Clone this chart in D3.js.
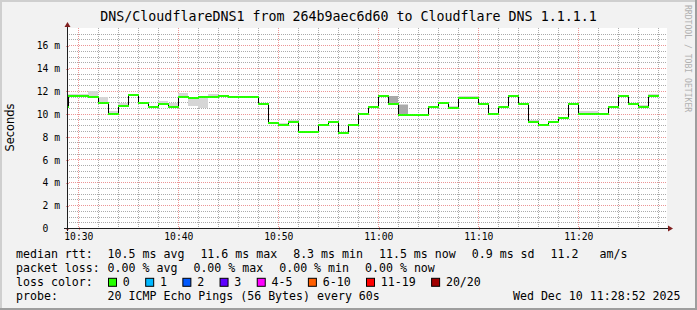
<!DOCTYPE html>
<html><head><meta charset="utf-8">
<script src="https://cdn.jsdelivr.net/npm/d3@7/dist/d3.min.js"></script>
<style>
html,body{margin:0;padding:0;background:#f2f2f2;}
svg{display:block;}
text{white-space:pre;}
</style>
</head><body>
<svg id="chart" width="697" height="310"></svg>
<script>
// ---------------- data ----------------
const title = "DNS/CloudflareDNS1 from 264b9aec6d60 to Cloudflare DNS 1.1.1.1";
const day = "2025-12-10";
const startClock = "10:28:52";
const endClock = "11:28:52";
const firstSampleClock = "10:28:00";
const stepMinutes = 1;

// median RTT per minute (ms)
const median = [10.6, 11.56, 11.56, 11.48, 10.95, 10.0, 10.7, 11.65, 10.95, 10.6,
  10.87, 10.6, 11.5, 11.36, 11.5, 11.5, 11.56, 11.48, 11.48, 11.48,
  10.87, 9.2, 9.03, 9.29, 8.36, 8.36, 9.03, 9.29, 8.33, 9.03,
  10.0, 10.6, 11.56, 10.87, 9.9, 9.9, 9.9, 10.6, 10.95, 10.52,
  11.39, 11.39, 10.87, 10.0, 10.6, 11.56, 10.87, 9.29, 9.03, 9.29,
  9.62, 10.87, 10.0, 10.0, 10.0, 10.6, 11.56, 10.87, 10.6, 11.56];
// smoke (spread of the pings)
const smokeHi = [10.6, 11.7, 11.7, 12.0, 11.5, 10.2, 10.9, 11.65, 10.95, 10.6,
  11.1, 10.95, 11.85, 11.36, 11.5, 11.74, 11.56, 11.48, 11.48, 11.48,
  10.87, 9.2, 9.2, 9.47, 8.48, 8.48, 9.03, 9.29, 8.33, 9.03,
  10.0, 10.6, 11.56, 11.56, 10.85, 9.9, 9.9, 10.6, 10.95, 10.7,
  11.56, 11.56, 10.87, 10.0, 10.6, 11.56, 10.87, 9.47, 9.03, 9.29,
  9.62, 10.87, 10.2, 10.25, 10.0, 10.6, 11.56, 10.87, 10.75, 11.72];
const smokeLo = [10.6, 11.56, 11.56, 11.48, 10.95, 10.0, 10.7, 11.65, 10.95, 10.6,
  10.87, 10.6, 11.5, 10.7, 10.5, 11.5, 11.56, 11.48, 11.48, 11.48,
  10.87, 9.2, 9.03, 9.29, 8.36, 8.36, 9.03, 9.29, 8.33, 9.03,
  10.0, 10.6, 11.56, 10.87, 9.9, 9.9, 9.9, 10.6, 10.95, 10.52,
  11.39, 11.39, 10.87, 10.0, 10.6, 11.56, 10.87, 9.29, 9.03, 9.29,
  9.62, 10.87, 10.0, 10.0, 10.0, 10.6, 11.56, 10.87, 10.6, 11.56];
const innerHi = [10.6, 11.56, 11.56, 11.48, 10.95, 10.0, 10.7, 11.65, 10.95, 10.6,
  10.87, 10.6, 11.5, 11.36, 11.5, 11.5, 11.56, 11.48, 11.48, 11.48,
  10.87, 9.2, 9.03, 9.29, 8.36, 8.36, 9.03, 9.29, 8.33, 9.03,
  10.0, 10.6, 11.56, 11.56, 10.72, 9.9, 9.9, 10.6, 10.95, 10.52,
  11.39, 11.39, 10.87, 10.0, 10.6, 11.56, 10.87, 9.29, 9.03, 9.29,
  9.62, 10.87, 10.0, 10.0, 10.0, 10.6, 11.56, 10.87, 10.6, 11.56];

const yTicks = [0, 2, 4, 6, 8, 10, 12, 14, 16];
const yTickLabels = ["0  ", "2 m", "4 m", "6 m", "8 m", "10 m", "12 m", "14 m", "16 m"];
const xTickLabels = ["10:30", "10:40", "10:50", "11:00", "11:10", "11:20"];
const yMax = 17.5;
const yLabel = "Seconds";

const rowLabels = ["median rtt:", "packet loss:", "loss color:", "probe:"];
const rttStats = ["10.5 ms avg", "11.6 ms max", "8.3 ms min", "11.5 ms now", "0.9 ms sd", "11.2   am/s"];
const lossStats = ["0.00 % avg", "0.00 % max", "0.00 % min", "0.00 % now"];
const lossLabels = ["0", "1", "2", "3", "4-5", "6-10", "11-19", "20/20"];
const lossColors = ["#26ff00", "#00b8ff", "#0059ff", "#5e00ff", "#ff00ff", "#ff5e00", "#ff0000", "#a10000"];
const probeText = "20 ICMP Echo Pings (56 Bytes) every 60s";
const dateText = "Wed Dec 10 11:28:52 2025";
const watermark = "RRDTOOL / TOBI OETIKER";

// ---------------- layout ----------------
const W = 697, H = 310;
const L = 67, R = 667, T = 28, B = 228;
const mono = "'DejaVu Sans Mono', monospace";
const sans = "'DejaVu Sans', sans-serif";
const gridCol = "rgba(143,143,143,0.75)";
const mgridCol = "rgba(222,79,79,0.6)";
const arrowCol = "#801f1f";
const axisCol = "#1f1f1f";

const parseT = d3.timeParse("%Y-%m-%d %H:%M:%S");
const parseHM = d3.timeParse("%Y-%m-%d %H:%M");
const t0 = parseT(day + " " + startClock), t1 = parseT(day + " " + endClock);
const tFirst = parseT(day + " " + firstSampleClock);

const x = d3.scaleTime().domain([t0, t1]).range([L, R]);
const y = d3.scaleLinear().domain([0, yMax]).range([B, T]);
const px = v => Math.round(x(v));
const py = v => Math.round(y(v));

const data = median.map((v, i) => ({
  t: d3.timeMinute.offset(tFirst, i * stepMinutes),
  t2: d3.timeMinute.offset(tFirst, (i + 1) * stepMinutes),
  v, hi: smokeHi[i], lo: smokeLo[i], ihi: innerHi[i]
}));

const svg = d3.select("#chart");

// background + frame shading
svg.append("rect").attr("width", W).attr("height", H).attr("fill", "#f2f2f2");
svg.append("path").attr("d", `M0,0H${W}V2H2V${H}H0Z`).attr("fill", "#cfcfcf");
svg.append("path").attr("d", `M${W},${H}H0V${H-2}H${W-2}V0H${W}Z`).attr("fill", "#9e9e9e");

// canvas
svg.append("rect").attr("x", L).attr("y", T).attr("width", R - L).attr("height", B - T).attr("fill", "#ffffff");

const defs = svg.append("defs");
defs.append("clipPath").attr("id", "plotclip").append("rect")
  .attr("x", L).attr("y", T).attr("width", R - L).attr("height", B - T);

// grid
const grid = svg.append("g").attr("shape-rendering", "crispEdges").attr("stroke-dasharray", "1,1");
const minorY = d3.range(0.5, yMax, 0.5).filter(v => v % 2 !== 0);
grid.selectAll(".hy").data(minorY).join("line")
  .attr("x1", L).attr("x2", R).attr("y1", d => py(d) + 0.5).attr("y2", d => py(d) + 0.5)
  .attr("stroke", gridCol);
const minorX = d3.timeMinute.every(2).range(t0, t1).filter(d => d.getMinutes() % 10 !== 0);
grid.selectAll(".vx").data(minorX).join("line")
  .attr("x1", d => px(d) + 0.5).attr("x2", d => px(d) + 0.5).attr("y1", T).attr("y2", B)
  .attr("stroke", gridCol);
grid.selectAll(".my").data(yTicks.slice(1)).join("line")
  .attr("x1", L).attr("x2", R).attr("y1", d => py(d) + 0.5).attr("y2", d => py(d) + 0.5)
  .attr("stroke", mgridCol);
const xTickDates = xTickLabels.map(s => parseHM(day + " " + s));
grid.selectAll(".mx").data(xTickDates).join("line")
  .attr("x1", d => px(d) + 0.5).attr("x2", d => px(d) + 0.5).attr("y1", T).attr("y2", B)
  .attr("stroke", mgridCol);

// smoke
const plot = svg.append("g").attr("clip-path", "url(#plotclip)");
plot.append("g").attr("shape-rendering", "crispEdges").selectAll("rect").data(data.filter(d => d.hi > d.lo)).join("rect")
  .attr("x", d => px(d.t)).attr("width", d => px(d.t2) - px(d.t))
  .attr("y", d => py(d.hi)).attr("height", d => py(d.lo) - py(d.hi))
  .attr("fill", "#d6d6d6");
plot.append("g").attr("shape-rendering", "crispEdges").selectAll("rect").data(data.filter(d => d.ihi > d.v)).join("rect")
  .attr("x", d => px(d.t)).attr("width", d => px(d.t2) - px(d.t))
  .attr("y", d => py(d.ihi)).attr("height", d => py(d.v) - py(d.ihi))
  .attr("fill", "#a9a9a9");

// median black step line
const stepPts = data.map(d => ({ t: d.t, v: d.v }));
stepPts.push({ t: data[data.length - 1].t2, v: data[data.length - 1].v });
plot.append("path").datum(stepPts)
  .attr("d", d3.line().x(d => px(d.t) + 0.5).y(d => py(d.v) + 0.5).curve(d3.curveStepAfter))
  .attr("fill", "none").attr("stroke", "#000").attr("stroke-width", 1)
  .attr("shape-rendering", "crispEdges");
// green (0 loss) segments
plot.append("g").attr("shape-rendering", "crispEdges").selectAll("line").data(data).join("line")
  .attr("x1", d => px(d.t)).attr("x2", d => px(d.t2) + 1)
  .attr("y1", d => py(d.v)).attr("y2", d => py(d.v))
  .attr("stroke", lossColors[0]).attr("stroke-width", 2);

// axes
const xAxis = d3.axisBottom(x).tickValues(xTickDates)
  .tickFormat((d, i) => xTickLabels[i]).tickSize(3).tickPadding(6);
const gx = svg.append("g").attr("transform", `translate(0.5,${B - 1})`).call(xAxis);
gx.select(".domain").remove();
gx.selectAll(".tick line").attr("stroke", mgridCol).attr("shape-rendering", "crispEdges");
gx.selectAll(".tick text").attr("font-family", mono).attr("font-size", 9.7).attr("fill", "#000")
  .attr("y", 10).attr("dy", "0.35em").attr("x", -0.5);

const yAxis = d3.axisLeft(y).tickValues(yTicks).tickFormat((d, i) => yTickLabels[i]).tickSize(3).tickPadding(4);
const gy = svg.append("g").attr("transform", `translate(${L + 1.5},0.5)`).call(yAxis);
gy.select(".domain").remove();
gy.selectAll(".tick line").attr("stroke", mgridCol).attr("shape-rendering", "crispEdges");
gy.selectAll(".tick text").attr("font-family", mono).attr("font-size", 9.7).attr("fill", "#000")
  .attr("x", 60 - (L + 1.5)).attr("dy", "0.32em").attr("text-anchor", "end");

// axis lines and arrows
svg.append("line").attr("x1", L - 3).attr("x2", R + 4).attr("y1", B + 0.5).attr("y2", B + 0.5)
  .attr("stroke", axisCol).attr("shape-rendering", "crispEdges");
svg.append("line").attr("x1", L + 0.5).attr("x2", L + 0.5).attr("y1", B + 3).attr("y2", T - 3)
  .attr("stroke", axisCol).attr("shape-rendering", "crispEdges");
svg.append("path").attr("d", `M${R + 1},${B - 2.5}L${R + 6},${B + 0.5}L${R + 1},${B + 3.5}Z`).attr("fill", arrowCol);
svg.append("path").attr("d", `M${L - 2.5},${T - 1}L${L + 0.5},${T - 6}L${L + 3.5},${T - 1}Z`).attr("fill", arrowCol);

// title
svg.append("text").attr("x", W / 2).attr("y", 16).attr("dy", "0.35em").attr("text-anchor", "middle")
  .attr("font-family", mono).attr("font-size", 13.3).attr("fill", "#000").text(title);

// y label
svg.append("text").attr("transform", `translate(10,127.5) rotate(-90)`).attr("text-anchor", "middle")
  .attr("dy", "0.35em").attr("font-family", sans).attr("font-size", 11.4).attr("fill", "#000").text(yLabel);

// watermark
svg.append("text").attr("transform", `translate(688.3,5) rotate(90)`).attr("dy", "0.35em")
  .attr("font-family", mono).attr("font-size", 8.1).attr("fill", "#b0b0b0").text(watermark);

// legend
const lg = svg.append("g").attr("font-family", mono).attr("font-size", 11.6).attr("fill", "#000");
const rowY = [254.3, 268.3, 282.3, 296.2];
const colX = 107.6, gap = 16;
rowLabels.forEach((s, r) => {
  lg.append("text").attr("x", 16).attr("y", rowY[r]).attr("dy", "0.35em").text(s);
});
function textRow(items, r) {
  let cx = colX;
  items.forEach(s => {
    const t = lg.append("text").attr("x", cx).attr("y", rowY[r]).attr("dy", "0.35em").text(s);
    cx += t.node().getComputedTextLength() + gap;
  });
}
textRow(rttStats, 0);
textRow(lossStats, 1);
{
  let cx = colX + 0.4;
  lossLabels.forEach((s, i) => {
    lg.append("rect").attr("x", cx + 0.5).attr("y", rowY[2] - 4).attr("width", 8).attr("height", 8)
      .attr("fill", lossColors[i]).attr("stroke", "#000").attr("stroke-width", 1);
    const t = lg.append("text").attr("x", cx + 14.8).attr("y", rowY[2]).attr("dy", "0.35em").text(s);
    cx += 14.8 + t.node().getComputedTextLength() + 15.4;
  });
}
lg.append("text").attr("x", colX).attr("y", rowY[3]).attr("dy", "0.35em").text(probeText);
lg.append("text").attr("x", 680.5).attr("y", rowY[3]).attr("dy", "0.35em").attr("text-anchor", "end").text(dateText);
</script>
</body></html>
